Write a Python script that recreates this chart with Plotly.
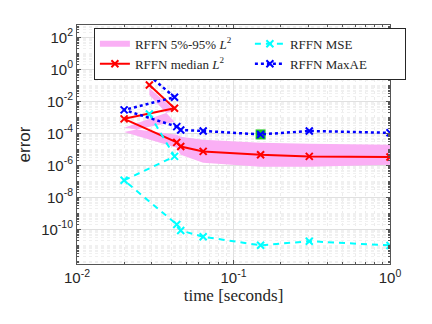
import plotly.graph_objects as go

# sample times (seconds), in the order the runs were stored
t = [0.029, 0.042, 0.02, 0.0434, 0.046, 0.064, 0.149, 0.305, 1.0]

# relative L2 error: median and 5%/95% quantiles
l2_median = [0.105, 3.7e-3, 8e-4, 2.7e-5, 1.5e-5, 7.4e-6, 4.6e-6, 3.6e-6, 3.3e-6]
l2_q95 = [0.068, 2.9e-3, 2.2e-4, 8e-5, 6e-5, 4e-5, 2.6e-5, 2.2e-5, 1.9e-5]
l2_q5 = [0.025, 5.2e-4, 1.2e-4, 1.25e-5, 4.6e-6, 1.45e-6, 8e-7, 8e-7, 1.1e-6]

mse = [1.6e-3, 3.6e-6, 1.15e-7, 2e-10, 8.4e-11, 3.4e-11, 1.0e-11, 1.8e-11, 9.8e-12]
maxae = [0.4, 0.018, 2.9e-3, 2.6e-4, 1.6e-4, 1.4e-4, 8.5e-5, 1.4e-4, 1.07e-4]

# highlighted run
best_t = [0.149]
best_maxae = [8.5e-5]

xticks = [0.01, 0.1, 1]
xtick_text = ['10<sup>-2</sup>', '10<sup>-1</sup>', '10<sup>0</sup>']
yticks = [1e2, 1e0, 1e-2, 1e-4, 1e-6, 1e-8, 1e-10]
ytick_text = ['10<sup>2</sup>', '10<sup>0</sup>', '10<sup>-2</sup>', '10<sup>-4</sup>',
              '10<sup>-6</sup>', '10<sup>-8</sup>', '10<sup>-10</sup>']

def xmark(color):
    return dict(symbol='x-thin', size=7, line=dict(color=color, width=2), color=color)

fig = go.Figure()
fig.add_trace(go.Scatter(
    x=t + t[::-1], y=l2_q95 + l2_q5[::-1],
    fill='toself', fillcolor='rgb(250,175,245)', mode='none',
    name='RFFN 5%-95% <i>L</i><sup>2</sup>', legendrank=1,
))
fig.add_trace(go.Scatter(
    x=t, y=l2_median, mode='lines+markers',
    line=dict(color='red', width=2), marker=xmark('red'),
    name='RFFN median <i>L</i><sup>2</sup>', legendrank=3,
))
fig.add_trace(go.Scatter(
    x=t, y=mse, mode='lines+markers',
    line=dict(color='cyan', width=2, dash='6px,5px'), marker=xmark('cyan'),
    name='RFFN MSE', legendrank=2,
))
fig.add_trace(go.Scatter(
    x=best_t, y=best_maxae, mode='markers',
    marker=dict(symbol='square', size=10, color='rgb(30,200,30)'),
    showlegend=False,
))
fig.add_trace(go.Scatter(
    x=t, y=maxae, mode='lines+markers',
    line=dict(color='blue', width=2.5, dash='dot'), marker=xmark('blue'),
    name='RFFN MaxAE', legendrank=4,
))

axis_common = dict(
    type='log', showline=True, mirror='allticks', linecolor='#555555', linewidth=1,
    ticks='inside', ticklen=4, tickcolor='#555555',
    showgrid=True, gridcolor='#e0e0e0', gridwidth=1, zeroline=False,
    tickfont=dict(family='Liberation Sans, Arial', size=15, color='#262626'),
)

fig.update_xaxes(
    **axis_common, range=[-2, 0], tickmode='array', tickvals=xticks, ticktext=xtick_text,
    minor=dict(showgrid=True, gridcolor='#ececec', griddash='dot', ticks='inside',
               ticklen=2, tickcolor='#555555', dtick='D1'),
    title=dict(text='time [seconds]', font=dict(family='Liberation Serif, DejaVu Serif', size=17, color='#262626'),
               standoff=4),
)
fig.update_yaxes(
    **axis_common, range=[-12.17, 2.77], tickmode='array', tickvals=yticks, ticktext=ytick_text,
    minor=dict(showgrid=True, gridcolor='#f0f0f0', griddash='dot', ticks='inside',
               ticklen=2, tickcolor='#555555', dtick='D1'),
    title=dict(text='error', font=dict(family='Liberation Sans, Arial', size=17, color='#262626'),
               standoff=6),
)

# the page body adds an 8px offset, so the figure is 8px smaller than the window
fig.update_layout(
    width=424, height=316,
    margin=dict(l=69, r=42, t=17, b=60),
    plot_bgcolor='white', paper_bgcolor='white',
    legend=dict(
        orientation='h', x=0.054, y=0.988, xanchor='left', yanchor='top',
        entrywidth=110, bgcolor='white', bordercolor='#262626', borderwidth=1,
        font=dict(family='Liberation Serif, DejaVu Serif', size=13, color='#262626'),
        tracegroupgap=0, itemwidth=30,
    ),
    showlegend=True,
)

fig.write_html('out.html')
